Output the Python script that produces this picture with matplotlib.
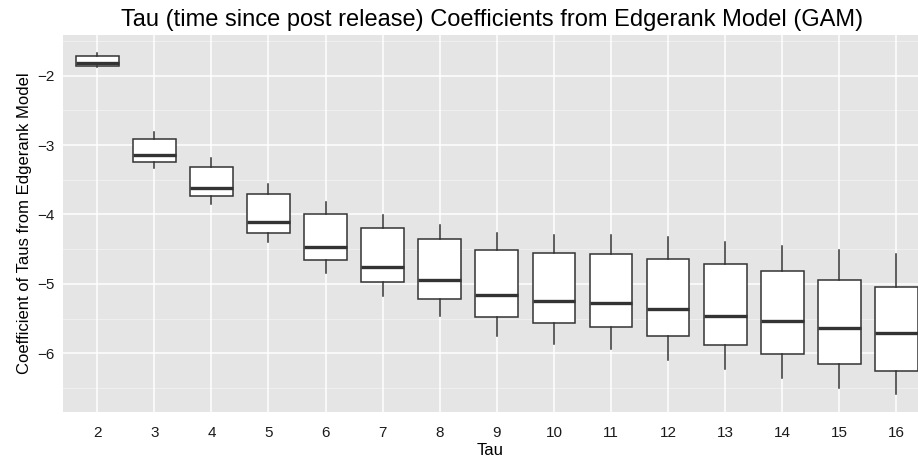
import matplotlib
matplotlib.use("Agg")
import matplotlib.pyplot as plt

# Tau levels and box statistics
taus = [2, 3, 4, 5, 6, 7, 8, 9, 10, 11, 12, 13, 14, 15, 16]
whisk_hi = [-1.67, -2.81, -3.19, -3.56, -3.82, -4.01, -4.15, -4.26, -4.29, -4.29, -4.33, -4.39, -4.45, -4.51, -4.57]
q3 = [-1.71, -2.91, -3.31, -3.70, -3.99, -4.20, -4.36, -4.51, -4.55, -4.57, -4.64, -4.71, -4.82, -4.94, -5.05]
medians = [-1.82, -3.15, -3.62, -4.11, -4.47, -4.75, -4.95, -5.16, -5.25, -5.28, -5.36, -5.46, -5.54, -5.64, -5.71]
q1 = [-1.86, -3.25, -3.74, -4.26, -4.66, -4.97, -5.22, -5.47, -5.56, -5.62, -5.75, -5.88, -6.01, -6.15, -6.26]
whisk_lo = [-1.88, -3.33, -3.85, -4.40, -4.84, -5.17, -5.46, -5.75, -5.87, -5.94, -6.09, -6.22, -6.35, -6.50, -6.59]

yticks = [-2, -3, -4, -5, -6]
yminor = [-1.5, -2.5, -3.5, -4.5, -5.5, -6.5]

plt.rcParams["font.family"] = ["Liberation Sans", "DejaVu Sans"]

fig = plt.figure(figsize=(9.18, 4.59), dpi=100)
# panel runs off the right edge, like the reference
ax = fig.add_axes([63 / 918, 1 - 412 / 459, 1 - 63 / 918, 377 / 459])
ax.set_facecolor("#E5E5E5")

stats = []
for i, t in enumerate(taus):
    stats.append({"med": medians[i], "q1": q1[i], "q3": q3[i],
                  "whislo": whisk_lo[i], "whishi": whisk_hi[i],
                  "fliers": [], "label": str(t)})

pos = list(range(len(taus)))
ax.bxp(stats, positions=pos, widths=0.75, showcaps=False, patch_artist=True,
       boxprops=dict(facecolor="white", edgecolor="#333333", linewidth=1.1),
       medianprops=dict(color="#333333", linewidth=2.4, solid_capstyle="butt"),
       whiskerprops=dict(color="#333333", linewidth=1.1),
       zorder=3)

# grid, ggplot style
for y in yminor:
    ax.axhline(y, color="#F2F2F2", linewidth=0.6, zorder=1)
for y in yticks:
    ax.axhline(y, color="white", linewidth=1.1, zorder=1)
for p in pos:
    ax.axvline(p, color="white", linewidth=1.1, zorder=1)

ax.set_xlim(-0.6, (918 - 97) / 57.1)
ax.set_ylim(-6.846, -1.414)
ax.set_xticks(pos)
ax.set_xticklabels([str(t) for t in taus])
ax.set_yticks(yticks)
ax.set_yticklabels(["\u22122", "\u22123", "\u22124", "\u22125", "\u22126"])
ax.tick_params(axis="both", length=0, labelsize=11, colors="#1a1a1a")
ax.tick_params(axis="x", pad=10)
ax.tick_params(axis="y", pad=6)
for s in ax.spines.values():
    s.set_visible(False)

ax.set_xlabel("Tau", fontsize=12, labelpad=2)
ax.set_ylabel("Coefficient of Taus from Edgerank Model", fontsize=12, labelpad=4)
fig.text(492.5 / 918, 1 - 20 / 459, "Tau (time since post release) Coefficients from Edgerank Model (GAM)",
         ha="center", va="center", fontsize=17)

fig.savefig("out.png", dpi=100)
